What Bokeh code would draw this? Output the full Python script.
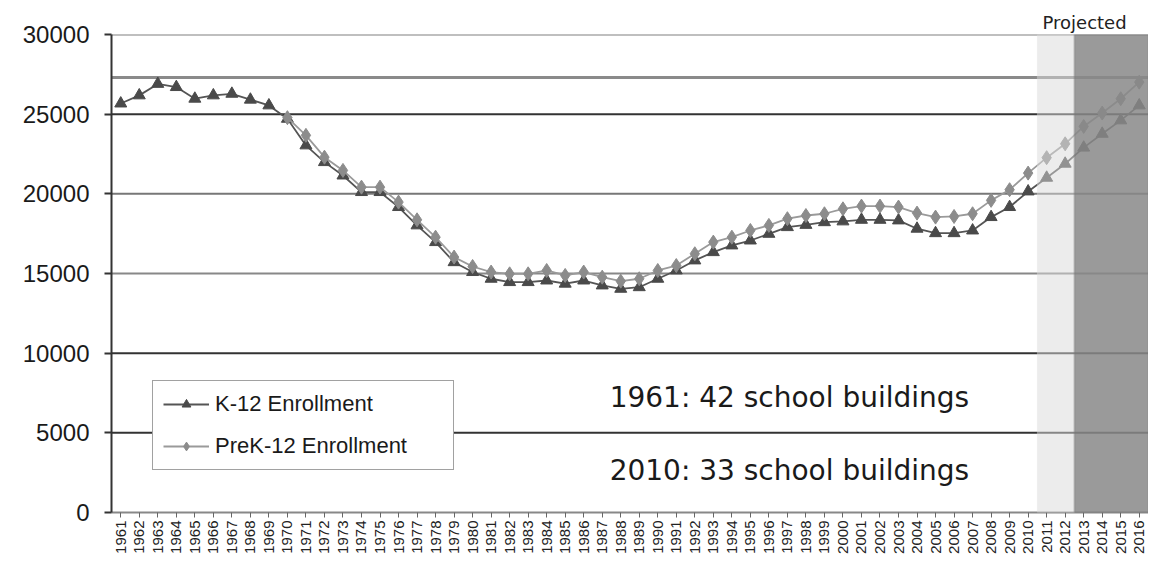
import math
from bokeh.plotting import figure
from bokeh.models import (ColumnDataSource, Legend, LegendItem, Label, Span,
                          BoxAnnotation, FixedTicker, FactorRange, Range1d)
from bokeh.embed import file_html
from bokeh.resources import INLINE

NaN = float("nan")

years = [str(y) for y in range(1961, 2017)]

k12 = [25670, 26180, 26900, 26700, 25970, 26180, 26280, 25910, 25550, 24710,
       23040, 21990, 21150, 20110, 20110, 19170, 18020, 16970, 15710, 15090,
       14670, 14460, 14460, 14560, 14360, 14560, 14250, 14040, 14140, 14670,
       15190, 15820, 16340, 16760, 17070, 17490, 17910, 18050, 18220, 18270,
       18370, 18370, 18330, 17810, 17530, 17530, 17700, 18540, 19170, 20150,
       21010, 21890, 22900, 23770, 24610, 25550]

prek12 = [NaN, NaN, NaN, NaN, NaN, NaN, NaN, NaN, NaN, 24780,
          23670, 22300, 21470, 20420, 20420, 19480, 18370, 17280, 16030, 15440,
          15090, 14980, 14980, 15190, 14880, 15090, 14770, 14520, 14670, 15190,
          15500, 16240, 16970, 17280, 17700, 18020, 18440, 18640, 18750, 19060,
          19230, 19230, 19170, 18790, 18540, 18580, 18750, 19590, 20260, 21300,
          22270, 23140, 24230, 25070, 25970, 27010]

capacity = 27300
y_ticks = [0, 5000, 10000, 15000, 20000, 25000, 30000]
grid_colors = ["#777777", "#333333", "#333333", "#888888", "#777777", "#333333", "#808080"]
projected_start = "2011"
projected_dark_start = "2013"

notes = ["1961: 42 school buildings", "2010: 33 school buildings"]

src = ColumnDataSource(dict(year=years, k12=k12, prek=prek12))

p = figure(x_range=FactorRange(factors=years, range_padding=0),
           y_range=Range1d(0, 30000),
           frame_width=1037, frame_height=478,
           min_border_left=111, min_border_top=34, min_border_bottom=48,
           min_border_right=0,
           output_backend="svg", toolbar_location=None)
p.outline_line_color = None
p.xgrid.visible = False
p.ygrid.visible = False
p.background_fill_color = "white"

# "Projected" heading above the projected band
p.title.text = "Projected"
p.title.align = "left"
p.title.offset = 931
p.title.text_font = "DejaVu Sans"
p.title.text_font_size = "18px"
p.title.text_font_style = "normal"
p.title.text_color = "#222222"
p.title.standoff = 3

for v, c in zip(y_ticks[1:], grid_colors[1:]):
    p.add_layout(Span(location=v, dimension="width", line_color=c,
                      line_width=2, level="underlay"))
p.add_layout(Span(location=capacity, dimension="width", line_color="#8a8a8a",
                  line_width=3, level="underlay"))

l1 = p.line("year", "k12", source=src, line_color="#555555", line_width=1.8)
s1 = p.scatter("year", "k12", source=src, marker="triangle", size=12,
               fill_color="#4a4a4a", line_color="#4a4a4a")
l2 = p.line("year", "prek", source=src, line_color="#9a9a9a", line_width=1.8)
s2 = p.scatter("year", "prek", source=src, marker="diamond", size=14,
               fill_color="#8c8c8c", line_color="#8c8c8c")

i0 = years.index(projected_start)
i1 = years.index(projected_dark_start)
p.add_layout(BoxAnnotation(left=i0, right=i1, fill_color="#d9d9d9", fill_alpha=0.5,
                           line_color="#e0e0e0", line_width=1))
p.add_layout(BoxAnnotation(left=i1, right=len(years), fill_color="#888888",
                           fill_alpha=0.85, line_color="#777777", line_width=2))

p.add_layout(Label(x=26.9, y=7220, text=notes[0], text_font="DejaVu Sans",
                   text_font_size="28px", text_color="#1a1a1a",
                   text_baseline="middle"))
p.add_layout(Label(x=26.9, y=2640, text=notes[1], text_font="DejaVu Sans",
                   text_font_size="28px", text_color="#1a1a1a",
                   text_baseline="middle"))

# axes
p.yaxis.ticker = FixedTicker(ticks=y_ticks)
p.yaxis.major_label_text_font = "Liberation Sans"
p.yaxis.major_label_text_font_size = "24px"
p.yaxis.major_label_text_color = "#1a1a1a"
p.yaxis.axis_line_color = "#333333"
p.yaxis.axis_line_width = 2
p.yaxis.major_tick_line_color = "#333333"
p.yaxis.major_tick_line_width = 2
p.yaxis.major_tick_out = 7
p.yaxis.major_tick_in = 0
p.yaxis.minor_tick_line_color = None
p.yaxis.major_label_standoff = 15

p.xaxis.major_label_orientation = math.pi / 2
p.xaxis.major_label_text_font = "Liberation Sans"
p.xaxis.major_label_text_font_size = "15px"
p.xaxis.major_label_text_color = "#222222"
p.xaxis.axis_line_color = "#888888"
p.xaxis.axis_line_width = 2
p.xaxis.major_tick_line_color = "#666666"
p.xaxis.major_tick_out = 5
p.xaxis.major_tick_in = 0
p.xaxis.major_label_standoff = 3

legend = Legend(items=[LegendItem(label="K-12 Enrollment", renderers=[l1, s1]),
                       LegendItem(label="PreK-12 Enrollment", renderers=[l2, s2])],
                location=(41, 42))
legend.label_text_font = "Liberation Sans"
legend.label_text_font_size = "22px"
legend.label_text_color = "#1a1a1a"
legend.label_width = 228
legend.glyph_width = 46
legend.glyph_height = 22
legend.label_standoff = 6
legend.spacing = 16
legend.padding = 10
legend.margin = 0
legend.border_line_color = "#444444"
legend.border_line_width = 1.5
legend.background_fill_color = "white"
legend.background_fill_alpha = 1
p.add_layout(legend)

open("out.html", "w").write(file_html(p, INLINE))
